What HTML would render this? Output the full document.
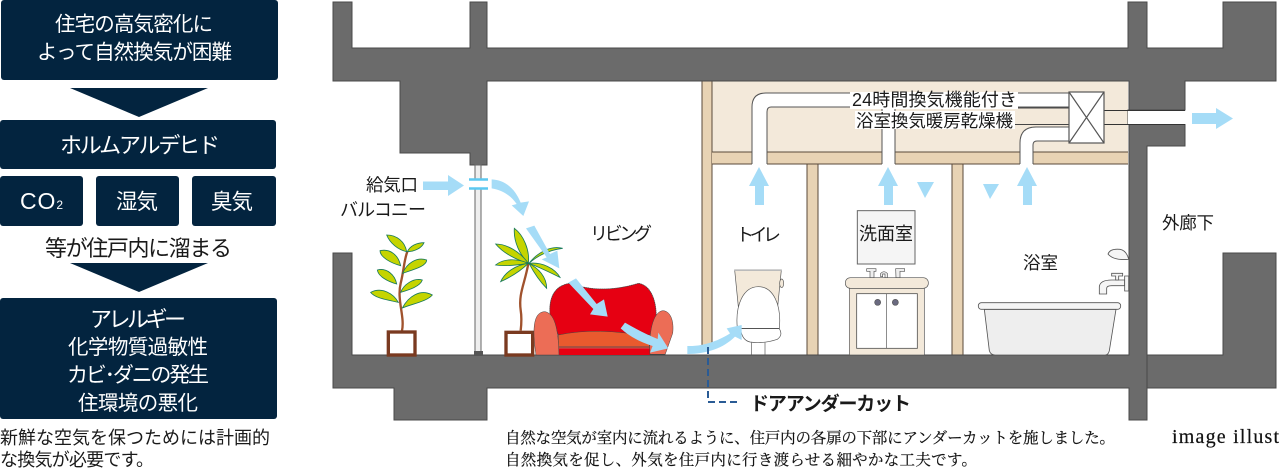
<!DOCTYPE html>
<html lang="ja"><head><meta charset="utf-8"><title>換気図</title>
<style>
html,body{margin:0;padding:0;background:#fff;width:1280px;height:469px;overflow:hidden}
svg{display:block}
text{font-family:"Liberation Sans","Noto Sans CJK JP",sans-serif}
.w{fill:#fff}.k{fill:#1a1a1a}
.s{font-family:"Liberation Serif","Noto Serif CJK SC",serif;fill:#111;stroke:#111;stroke-width:.2}
.leaf{fill:#c5d400;stroke:#1a7a5a;stroke-width:2.5}
.a{fill:#a5dcf7}
.wood{fill:#e8d3b4;stroke:#5a4a3a;stroke-width:1}
</style></head><body>
<svg width="1280" height="469" viewBox="0 0 1280 469" xmlns="http://www.w3.org/2000/svg">
<!-- left flow -->
<g fill="#03243f">
<rect x="1" y="0" width="277" height="80" rx="3"/>
<polygon points="70,88 208,88 139,117"/>
<rect x="0" y="120" width="276" height="49" rx="3"/>
<rect x="0" y="176" width="83" height="50" rx="3"/>
<rect x="96" y="176" width="83" height="50" rx="3"/>
<rect x="192" y="176" width="84" height="50" rx="3"/>
<polygon points="70,263 208,263 139,292"/>
<rect x="0" y="298" width="277" height="121" rx="3"/>
</g>
<text class="w" font-size="20.500" x="55" y="31" textLength="158">住宅の高気密化に</text>
<text class="w" font-size="20.500" x="37" y="59" textLength="195">よって自然換気が困難</text>
<text class="w" font-size="22" x="60" y="153" textLength="160">ホルムアルデヒド</text>
<text class="w" font-size="23" x="20" y="209" textLength="43">CO<tspan font-size="12">2</tspan></text>
<text class="w" font-size="21.500" x="116" y="209" textLength="42">湿気</text>
<text class="w" font-size="21.500" x="211" y="209" textLength="42">臭気</text>
<text class="w" font-size="22" x="90" y="327" textLength="96">アレルギー</text>
<text class="w" font-size="20.500" x="68" y="354" textLength="140">化学物質過敏性</text>
<text class="w" font-size="21" x="67" y="382" textLength="142">カビ･ダニの発生</text>
<text class="w" font-size="20.500" x="78" y="410" textLength="120">住環境の悪化</text>
<text class="k" x="45" y="256" font-size="22" textLength="187">等が住戸内に溜まる</text>
<text class="k" x="0" y="444" font-size="18" textLength="270">新鮮な空気を保つためには計画的</text>
<text class="k" x="0" y="466" font-size="18" textLength="154">な換気が必要です。</text>

<!-- attic and wood -->
<rect x="712" y="81" width="416" height="72" fill="#f3e9da"/>
<rect x="702" y="81" width="10" height="265" class="wood"/>
<rect x="712" y="152" width="416" height="12" fill="#e8d3b4"/>
<path d="M712 152H1128M712 164H1128" stroke="#5a4a3a" stroke-width="1"/>
<rect x="807" y="164" width="11" height="191" class="wood"/>
<rect x="952" y="164" width="11" height="191" class="wood"/>

<!-- ducts -->
<path d="M752 165V107Q752 93 766 93H1070V107H771Q767 107 767 112V165Z" fill="#fff"/>
<path d="M752 164V107Q752 93 766 93H1070M767 164V112Q767 107 771 107H1070" fill="none" stroke="#555" stroke-width="1"/>
<rect x="882" y="107" width="13" height="58" fill="#fff"/>
<path d="M882 107V164M895 107V164" stroke="#555" stroke-width="1"/>
<path d="M1020 165V143Q1020 127 1036 127H1070V141H1037Q1033 141 1033 145V165Z" fill="#fff"/>
<path d="M1020 164V143Q1020 127 1036 127H1070M1033 164V145Q1033 141 1037 141H1070" fill="none" stroke="#555" stroke-width="1"/>
<path d="M1014 124.500H1070M1014 108H1070" stroke="#444" stroke-width="1"/>

<!-- concrete -->
<g fill="#6b6b6b" stroke="#4a4a4a" stroke-width="1">
<path d="M333 2H352V48H470V2H487V48H1128V2H1147V48H1223V2H1276V81H1185V110H1128V124H1185V146H1147V420H1129V388H487V420H394V388H333V253H352V355H1129V81H487V165H470V153H400V81H333Z"/>
<path d="M1147 355H1223V253H1276V388H1147Z"/>
</g>
<rect x="1128" y="110.500" width="58" height="13.500" fill="#fff"/>
<path d="M1104 110.500H1185M1104 124.500H1185" stroke="#333" stroke-width="1"/>

<!-- fan box -->
<g fill="#fff" stroke="#555" stroke-width="1.200">
<rect x="1069" y="92" width="35" height="51"/>
<path d="M1069 92L1104 143M1104 92L1069 143" fill="none"/>
</g>

<!-- thin wall -->
<rect x="475" y="165" width="6" height="187" fill="#eee" stroke="#666" stroke-width="1"/>
<rect x="474" y="351" width="9" height="5" fill="#555"/>
<rect x="466" y="180" width="24" height="8" fill="#fff"/>
<path d="M469 179.500H488M469 188.500H488" stroke="#5cc8f0" stroke-width="2.500"/>

<!-- lower-left illustration -->
<g transform="translate(330,220) scale(.33333)">
<path d="M216 332C225 290 200 240 212 190C222 150 222 120 232 95" fill="none" stroke="#a0522d" stroke-width="7"/>
<path class="leaf" d="M230 95C225 65 200 45 170 45C180 70 205 90 230 95Z"/>
<path class="leaf" d="M232 95C240 78 260 68 282 68C275 85 252 95 232 95Z"/>
<path class="leaf" d="M212 137C205 105 180 85 150 92C150 112 185 130 212 137Z"/>
<path class="leaf" d="M218 160C230 130 260 110 290 120C290 140 245 150 218 160Z"/>
<path class="leaf" d="M200 192C195 165 170 142 142 150C145 170 175 185 200 192Z"/>
<path class="leaf" d="M212 217C220 195 250 172 277 180C270 200 235 210 212 217Z"/>
<path class="leaf" d="M205 247C190 220 155 200 122 217C135 235 175 240 205 247Z"/>
<path class="leaf" d="M217 264C235 230 270 205 307 225C290 245 245 252 217 264Z"/>
<rect x="175" y="336" width="80" height="69" fill="#fff" stroke="#7a3a20" stroke-width="10"/>
<path d="M595 130C585 190 565 220 572 270C576 295 574 315 572 332" fill="none" stroke="#a0522d" stroke-width="7"/>
<path class="leaf" d="M595 130C600 90 580 45 553 25C550 65 570 105 595 130Z"/>
<path class="leaf" d="M595 130C570 95 530 72 497 72C520 100 560 120 595 130Z"/>
<path class="leaf" d="M595 130C560 115 520 115 497 135C530 140 565 135 595 130Z"/>
<path class="leaf" d="M595 130C560 135 525 155 512 185C545 170 575 150 595 130Z"/>
<path class="leaf" d="M597 130C620 100 660 75 698 85C660 90 625 105 597 130Z"/>
<path class="leaf" d="M597 130C635 125 675 145 690 172C655 155 625 140 597 130Z"/>
<path class="leaf" d="M597 130C625 145 650 170 650 205C630 185 610 155 597 130Z"/>
<rect x="528" y="337" width="80" height="68" fill="#fff" stroke="#7a3a20" stroke-width="10"/>
<!-- sofa -->
<path d="M660 285C655 225 680 195 720 190C790 215 860 210 925 190C965 195 982 250 978 300L960 345H685Z" fill="#e60012" stroke="#444" stroke-width="2" stroke-dasharray="5 1"/>
<path d="M685 345Q800 320 958 350V382H685Z" fill="#e95a2e" stroke="#444" stroke-width="1.500"/>
<rect x="685" y="378" width="275" height="7" fill="#a85040"/>
<rect x="685" y="385" width="275" height="20" fill="#e60012"/>
<path d="M618 405C605 320 612 275 645 275C672 280 685 320 687 405Z" fill="#ec6d56" stroke="#444" stroke-width="1.500"/>
<path d="M960 405C955 320 975 272 1000 272C1025 275 1032 310 1028 340L1005 405Z" fill="#ec6d56" stroke="#444" stroke-width="1.500"/>
<rect x="960" y="402" width="45" height="4" fill="#444"/>
</g>

<!-- toilet and sink -->
<g transform="translate(700,210) scale(.33333)" stroke="#555" stroke-width="2">
<path d="M104 180H244L232 300H116Z" fill="#f3e9da"/>
<rect x="104" y="178" width="140" height="5" fill="#bbb" stroke="none"/>
<ellipse cx="245" cy="220" rx="6" ry="13" fill="#f3e9da"/>
<path d="M112 355C105 285 130 230 175 230C220 230 245 285 238 355Z" fill="#fff" stroke-width="2"/>
<path d="M122 356H238Q250 375 232 388Q190 402 150 396Q125 390 122 356Z" fill="#fff"/>
<path d="M154 398V435M195 398V435" fill="none"/>
<rect x="472" y="2" width="173" height="160" fill="#f5f5f5" stroke="#666" stroke-width="3"/>
<path d="M500 176H528V184H522V203H510V184H500ZM587 176H614V184H600V203H588Z" fill="#eee"/>
<path d="M542 200V190Q552 180 562 190V203H555V192H548V200Z" fill="#eee"/>
<rect x="448" y="235" width="225" height="200" fill="#f3e9da" stroke="#555"/>
<rect x="436" y="203" width="249" height="32" rx="15" fill="#f3e9da"/>
<rect x="470" y="251" width="182" height="164" fill="#fff" stroke="#555" stroke-width="2.500"/>
<path d="M560 251V415"/>
<circle cx="533" cy="277" r="9" fill="#6a6a80"/>
<circle cx="586" cy="277" r="9" fill="#6a6a80"/>
</g>

<!-- bath -->
<g transform="translate(960,220) scale(.33333)" stroke="#555" stroke-width="2.500">
<path d="M73 268L88 392Q92 405 105 405H435Q445 405 448 392L468 268Z" fill="#eee"/>
<rect x="55" y="248" width="427" height="20" rx="9" fill="#f5f5f5"/>
<path d="M444 102Q450 85 480 88Q500 92 506 118Q460 122 444 102Z" fill="#f5f5f5"/>
<path d="M418 222V200Q420 180 455 180H494V197H455Q440 197 440 205V222Z" fill="#f5f5f5"/>
<path d="M455 160H488V168H476V180H467V168H455ZM494 168H506V213H494Z" fill="#f5f5f5"/>
</g>

<!-- air arrows -->
<path class="a" d="M423 181.500H448V175L464 185.500L448 196V190H423Z"/>
<g transform="translate(330,0) scale(.33333)">
<path class="a" d="M485 538C525 540 555 565 572 608L597 604L580 648L545 616L560 612C545 590 520 570 485 565Z"/>
</g>
<g transform="translate(500,160) scale(.33333)">
<path class="a" d="M78 205L103 197L150 282L172 272L178 325L125 298L140 292Z"/>
<path class="a" d="M205 368L228 355L290 432L312 418L323 470L270 463L280 447Z"/>
<path class="a" d="M362 505L375 488Q430 520 473 537L475 518L505 565L450 578L458 558Q400 540 362 505Z"/>
<path class="a" d="M562 558C610 560 660 540 690 520L680 505L725 495L725 540L705 530C670 565 620 582 562 582Z"/>
</g>
<path class="a" d="M755 205V186H749L759 167L769 186H764V205Z"/>
<path class="a" d="M884 205V186H878L888 167L898 186H893V205Z"/>
<path class="a" d="M1023 205V186H1017L1027 167L1037 186H1032V205Z"/>
<polygon class="a" points="917,182 934,182 925,198"/>
<polygon class="a" points="983,184 999,184 990,199"/>
<path class="a" d="M1192 113H1216V108L1233 118.500L1216 129V124H1192Z"/>

<!-- dashed leader -->
<path d="M708 347V402H738" fill="none" stroke="#2a5b95" stroke-width="2" stroke-dasharray="7 4"/>

<!-- labels -->
<rect x="850" y="92" width="168" height="17" fill="#fff"/>
<rect x="855" y="111" width="160" height="18" fill="#fff"/>
<text class="k" x="852" y="106" font-size="18" textLength="165">24時間換気機能付き</text>
<text class="k" x="856" y="127" font-size="17.500" textLength="157">浴室換気暖房乾燥機</text>
<text class="k" x="366" y="191" font-size="17.500" textLength="52">給気口</text>
<text class="k" x="340" y="216" font-size="18" textLength="86">バルコニー</text>
<text class="k" x="590" y="240" font-size="18" textLength="62">リビング</text>
<text class="k" x="736" y="241" font-size="18" textLength="45">トイレ</text>
<text class="k" x="859" y="240" font-size="18" textLength="54">洗面室</text>
<text class="k" x="1023" y="269" font-size="17.500" textLength="35">浴室</text>
<text class="k" x="1162" y="229" font-size="17.500" textLength="52">外廊下</text>
<text class="k" x="750" y="410" font-size="19" font-weight="700" textLength="161">ドアアンダーカット</text>
<text class="s" x="505" y="443" font-size="15.500" textLength="610">自然な空気が室内に流れるように、住戸内の各扉の下部にアンダーカットを施しました。</text>
<text class="s" x="505" y="465" font-size="15.500" textLength="472">自然換気を促し、外気を住戸内に行き渡らせる細やかな工夫です。</text>
<text class="s" x="1172" y="443" font-size="20" letter-spacing="1.200">image illust</text>
</svg>
</body></html>
